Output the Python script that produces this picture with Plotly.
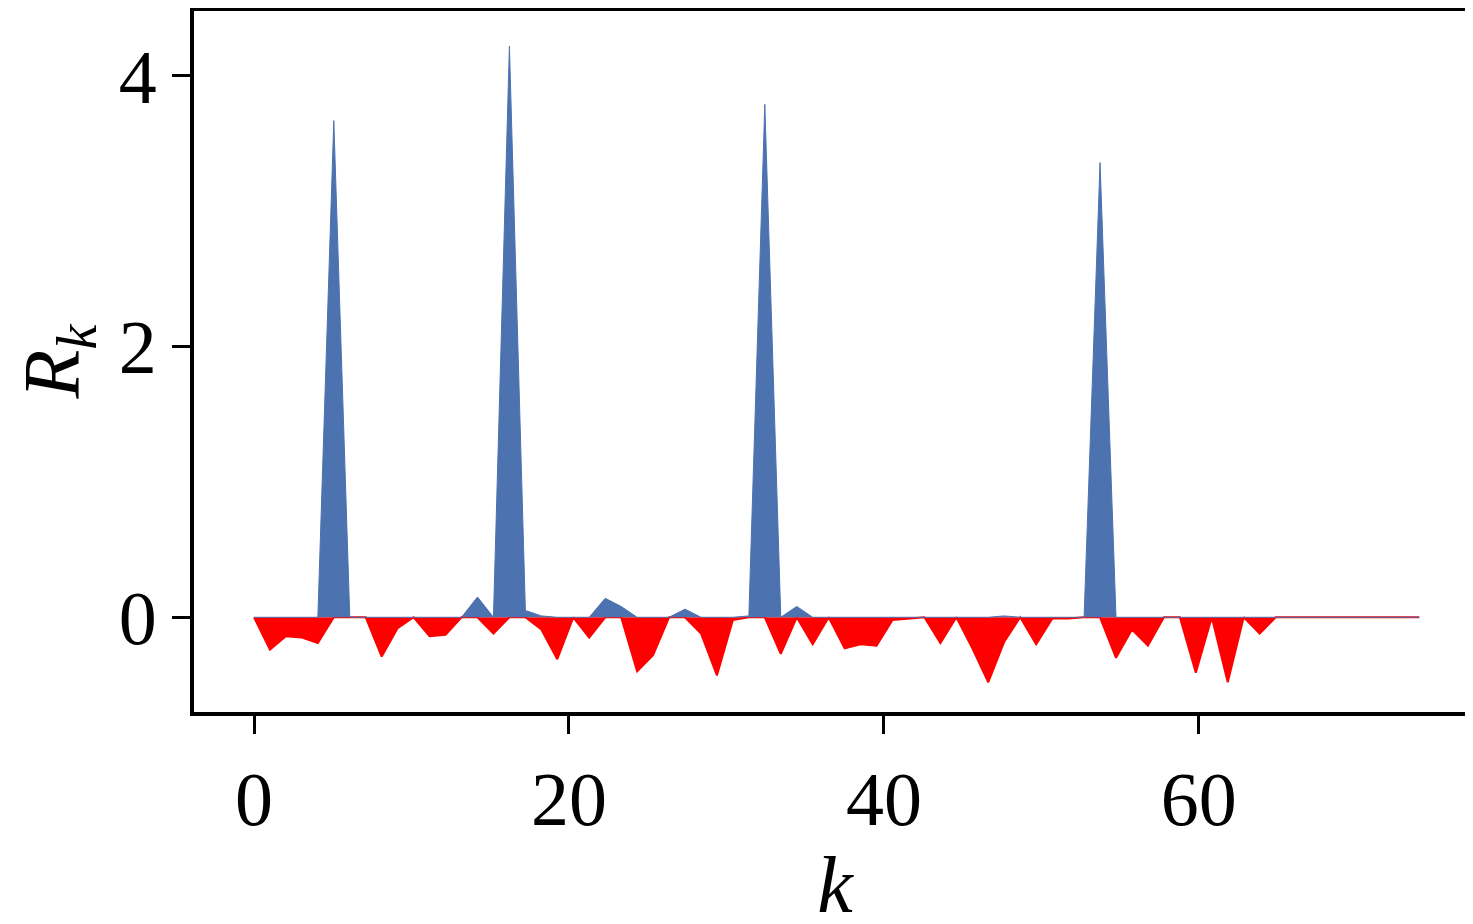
import numpy as np
import plotly.graph_objects as go

# R_k values, 74 samples spread over k = 0..74
n_pts = 74
k = np.linspace(0, 74, n_pts)

pos_vals = [0, 0, 0, 0, 0, 3.67, 0, 0, 0, 0,
            0, 0, 0, 0, 0.15, 0, 4.22, 0.05, 0.01, 0,
            0, 0, 0.14, 0.08, 0, 0, 0, 0.06, 0, 0,
            0, 0.01, 3.79, 0, 0.08, 0, 0, 0, 0, 0,
            0, 0, 0, 0, 0, 0, 0, 0.01, 0, 0,
            0, 0, 0, 3.36, 0, 0, 0, 0, 0, 0,
            0, 0, 0, 0, 0, 0, 0, 0, 0, 0,
            0, 0, 0, 0]

neg_vals = [0, -0.24, -0.14, -0.15, -0.19, 0, 0, 0, -0.29, -0.08,
            0, -0.14, -0.13, 0, 0, -0.12, 0, 0, -0.09, -0.31,
            0, -0.15, 0, 0, -0.40, -0.28, 0, 0, -0.12, -0.43,
            -0.02, 0, 0, -0.27, 0, -0.20, 0, -0.23, -0.20, -0.21,
            -0.02, -0.01, 0, -0.19, 0, -0.23, -0.48, -0.18, 0, -0.20,
            -0.01, -0.01, 0, 0, -0.30, -0.09, -0.21, 0, 0, -0.41,
            0, -0.48, 0, -0.12, 0, 0, 0, 0, 0, 0,
            0, 0, 0, 0]

x_ticks = [0, 20, 40, 60]
y_ticks = [0, 2, 4]

fig = go.Figure()
fig.add_trace(go.Scatter(x=k, y=neg_vals, mode="lines", fill="tozeroy",
                         line=dict(color="#ff0000", width=2), fillcolor="#ff0000",
                         showlegend=False))
fig.add_trace(go.Scatter(x=k, y=pos_vals, mode="lines", fill="tozeroy",
                         line=dict(color="#4c72b0", width=1), fillcolor="#4c72b0",
                         showlegend=False))

serif = "Liberation Serif, Times New Roman, serif"
fig.update_layout(
    width=1473, height=924,
    paper_bgcolor="white", plot_bgcolor="white",
    margin=dict(l=186, r=5, t=3, b=220, autoexpand=False),
    font=dict(family=serif, size=76, color="black"),
    xaxis=dict(range=[-3.81, 77.6], tickvals=x_ticks, ticks="outside", ticklen=18,
               tickwidth=3, tickcolor="black", showgrid=False, zeroline=False,
               showline=True, mirror=True, linecolor="black", linewidth=4,
               automargin=False, tickfont=dict(size=76),
               title=dict(text="<i>k</i>", font=dict(size=80), standoff=5)),
    yaxis=dict(range=[-0.70, 4.48], tickvals=y_ticks, ticks="outside", ticklen=18,
               tickwidth=3, tickcolor="black", showgrid=False, zeroline=False,
               showline=True, mirror=True, linecolor="black", linewidth=4,
               automargin=False, tickfont=dict(size=76),
               title=dict(text="<i>R<sub>k</sub></i>", font=dict(size=80), standoff=15)),
)

fig.write_html("out.html")
